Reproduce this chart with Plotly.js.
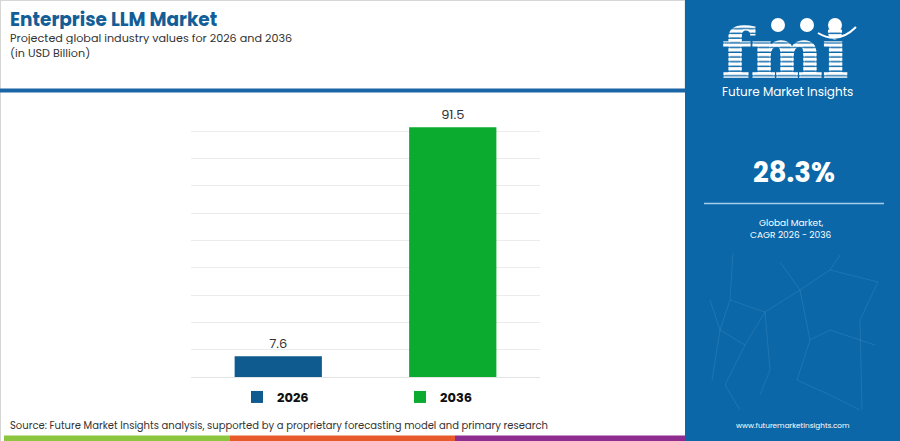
<!DOCTYPE html>
<html>
<head>
<meta charset="utf-8">
<script src="https://cdn.plot.ly/plotly-3.0.1.min.js"></script>
<style>
  html, body { margin: 0; padding: 0; background: #ffffff; }
  #chart { width: 900px; height: 441px; }
</style>
</head>
<body>
<div id="chart"></div>
<script>
// ---- Data ----
const years = ["2026", "2036"];
const values = [7.6, 91.5];
const barColors = ["#0f5a8f", "#0aab2f"];
const titleText = "Enterprise LLM Market";
const subtitleText = "Projected global industry values for 2026 and 2036";
const unitText = "(in USD Billion)";
const sourceText = "Source: Future Market Insights analysis, supported by a proprietary forecasting model and primary research";
const cagrText = "28.3%";
const cagrLabel1 = "Global Market,";
const cagrLabel2 = "CAGR 2026 - 2036";
const brandText = "Future Market Insights";
const siteText = "www.futuremarketinsights.com";

// ---- Geometry (pixels) ----
const W = 900, H = 441;
const PL = 191, PR = 540, PT = 104, PB = 377;
const px = x => (x - PL) / (PR - PL);
const py = y => (PB - y) / (PB - PT);

const FONT = "Poppins, 'Open Sans', sans-serif";

const traces = years.map((yr, i) => ({
  type: "bar",
  name: yr,
  x: [yr],
  y: [values[i]],
  marker: { color: barColors[i] },
  text: [values[i].toFixed(1)],
  textposition: "outside",
  textfont: { family: FONT, size: 13, color: "#333333" },
  cliponaxis: false,
  hoverinfo: "x+y",
  legend: i === 0 ? "legend" : "legend2"
}));

const logoSvg =
  '<svg xmlns="http://www.w3.org/2000/svg" width="140" height="70" viewBox="0 0 140 70">' +
  '<defs><pattern id="st" width="10" height="5.5" patternUnits="userSpaceOnUse">' +
  '<rect x="0" y="0" width="10" height="3.8" fill="#ffffff"/></pattern></defs>' +
  '<text x="0" y="66" font-family="DejaVu Serif" font-weight="900" font-size="78" fill="url(#st)" stroke="url(#st)" stroke-width="2" textLength="126" lengthAdjust="spacingAndGlyphs">fmi</text>' +
  '</svg>';
const logoUri = "data:image/svg+xml;charset=utf-8," + encodeURIComponent(logoSvg);

// faint network texture in the side panel (decorative)
const net = [
  [733,253,730,300],[730,300,720,330],[720,330,712,380],[730,300,765,312],[765,312,800,290],
  [800,290,830,270],[830,270,878,282],[765,312,770,370],[770,370,760,395],[720,330,745,345],
  [745,345,765,312],[745,345,725,385],[725,385,740,410],[800,290,810,340],[810,340,830,330],
  [830,330,875,345],[878,282,860,320],[860,320,862,410],[810,340,797,380],[797,380,830,395],
  [830,395,860,410],[710,300,720,330],[840,255,830,270],[780,262,800,290]
];
const netShapes = net.map(s => ({
  type: "line", xref: "paper", yref: "paper",
  x0: px(s[0]), y0: py(s[1]), x1: px(s[2]), y1: py(s[3]),
  line: { color: "rgba(170,210,240,0.13)", width: 1 }, layer: "below"
}));

const shapes = [
  // left header box border
  { type: "rect", xref: "paper", yref: "paper", x0: px(0.5), x1: px(685), y0: py(90), y1: py(0.5),
    line: { color: "#d6d6d6", width: 1 }, fillcolor: "rgba(0,0,0,0)", layer: "below" },
  // left outer border
  { type: "line", xref: "paper", yref: "paper", x0: px(0.5), x1: px(0.5), y0: py(441), y1: py(0),
    line: { color: "#d6d6d6", width: 1 }, layer: "below" },
  // blue header rule
  { type: "rect", xref: "paper", yref: "paper", x0: px(0), x1: px(685), y0: py(92.5), y1: py(88.5),
    line: { width: 0 }, fillcolor: "#1a65a6", layer: "below" },
  // right panel
  { type: "rect", xref: "paper", yref: "paper", x0: px(685), x1: px(900), y0: py(441), y1: py(0),
    line: { width: 0 }, fillcolor: "#0b67a8", layer: "below" }
].concat(netShapes).concat([
  // panel divider line
  { type: "line", xref: "paper", yref: "paper", x0: px(704), x1: px(884), y0: py(203.5), y1: py(203.5),
    line: { color: "#a8cdec", width: 1.5 }, layer: "below" },
  // bottom colour strips
  { type: "rect", xref: "paper", yref: "paper", x0: px(4), x1: px(230), y0: py(441), y1: py(435.5),
    line: { width: 0 }, fillcolor: "#8cc63f", layer: "below" },
  { type: "rect", xref: "paper", yref: "paper", x0: px(230), x1: px(455), y0: py(441), y1: py(435.5),
    line: { width: 0 }, fillcolor: "#e85a2a", layer: "below" },
  { type: "rect", xref: "paper", yref: "paper", x0: px(455), x1: px(685), y0: py(441), y1: py(435.5),
    line: { width: 0 }, fillcolor: "#8e2d8f", layer: "below" },
  // logo globes
  { type: "circle", xref: "paper", yref: "paper", x0: px(771), x1: px(785), y0: py(32), y1: py(18),
    line: { width: 0 }, fillcolor: "#ffffff", layer: "above" },
  { type: "circle", xref: "paper", yref: "paper", x0: px(800), x1: px(814), y0: py(32), y1: py(18),
    line: { width: 0 }, fillcolor: "#ffffff", layer: "above" },
  { type: "circle", xref: "paper", yref: "paper", x0: px(828), x1: px(842), y0: py(32), y1: py(18),
    line: { width: 0 }, fillcolor: "#ffffff", layer: "above" },
  { type: "path", xref: "paper", yref: "paper",
    path: "M " + px(818) + " " + py(33) + " Q " + px(838) + " " + py(45) + " " + px(856) + " " + py(27),
    line: { color: "#ffffff", width: 2 }, layer: "above" }
]);

const annotations = [
  { text: "<b>" + titleText + "</b>", x: px(8), y: py(19), xanchor: "left", yanchor: "middle",
    height: 20, font: { family: FONT, size: 18.5, color: "#135e96" } },
  { text: subtitleText, x: px(8), y: py(37), xanchor: "left", yanchor: "middle",
    height: 13, font: { family: FONT, size: 11.2, color: "#333333" } },
  { text: unitText, x: px(8), y: py(52), xanchor: "left", yanchor: "middle",
    height: 13, font: { family: FONT, size: 11.2, color: "#333333" } },
  { text: sourceText, x: px(8), y: py(425), xanchor: "left", yanchor: "middle",
    font: { family: FONT, size: 10, color: "#333333" } },
  { text: brandText, x: px(787), y: py(92), xanchor: "center", yanchor: "middle",
    font: { family: FONT, size: 12, color: "#ffffff" } },
  { text: "<b>" + cagrText + "</b>", x: px(794), y: py(172), xanchor: "center", yanchor: "middle",
    font: { family: FONT, size: 27.5, color: "#ffffff" } },
  { text: cagrLabel1, x: px(791), y: py(222), xanchor: "center", yanchor: "middle",
    height: 11, font: { family: FONT, size: 9, color: "#ffffff" } },
  { text: cagrLabel2, x: px(791), y: py(234), xanchor: "center", yanchor: "middle",
    height: 11, font: { family: FONT, size: 9, color: "#ffffff" } },
  { text: siteText, x: px(793), y: py(425), xanchor: "center", yanchor: "middle",
    font: { family: FONT, size: 7.3, color: "#ffffff" } }
].map(a => Object.assign({ xref: "paper", yref: "paper", showarrow: false }, a));

const legendCommon = {
  orientation: "h", xref: "container", yref: "container",
  yanchor: "middle", xanchor: "left", bgcolor: "rgba(0,0,0,0)",
  font: { family: FONT, size: 13, color: "#111111", weight: "bold" },
  itemclick: false, itemdoubleclick: false
};

const layout = {
  width: W, height: H,
  margin: { l: PL, r: W - PR, t: PT, b: H - PB, pad: 0 },
  paper_bgcolor: "#ffffff",
  plot_bgcolor: "#ffffff",
  barmode: "overlay",
  bargap: 0.5,
  showlegend: true,
  legend: Object.assign({}, legendCommon, { x: 237 / W, y: 1 - 397 / H }),
  legend2: Object.assign({}, legendCommon, { x: 400 / W, y: 1 - 397 / H }),
  xaxis: {
    type: "category", categoryorder: "array", categoryarray: years,
    showticklabels: false, ticks: "", showgrid: false, zeroline: false, showline: false,
    fixedrange: true
  },
  yaxis: {
    range: [0, 100], dtick: 10, showticklabels: false, ticks: "",
    showgrid: true, gridcolor: "#ececec", gridwidth: 1,
    zeroline: true, zerolinecolor: "#e4e4e4", zerolinewidth: 1, showline: false,
    fixedrange: true
  },
  shapes: shapes,
  annotations: annotations,
  images: [
    { source: logoUri, xref: "paper", yref: "paper", x: px(722), y: py(20),
      sizex: px(862) - px(722), sizey: py(20) - py(80), xanchor: "left", yanchor: "top",
      sizing: "stretch", layer: "above" }
  ]
};

Plotly.newPlot("chart", traces, layout, { displayModeBar: false });
</script>
</body>
</html>
